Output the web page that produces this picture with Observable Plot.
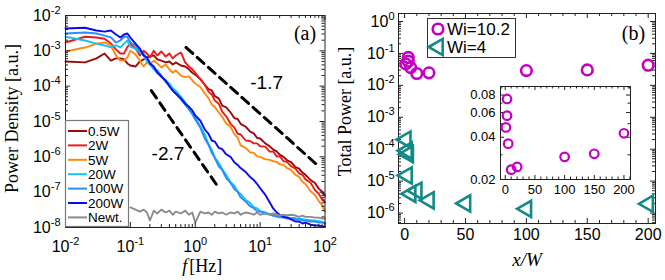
<!DOCTYPE html>
<html><head><meta charset="utf-8">
<script src="https://cdn.jsdelivr.net/npm/d3@7"></script>
<script src="https://cdn.jsdelivr.net/npm/@observablehq/plot@0.6"></script>
<style>
body{margin:0;background:#fff}
#wrap{position:relative;width:665px;height:280px;overflow:hidden;background:#fff}
#wrap svg{position:absolute}
</style></head>
<body><div id="wrap"></div>
<script>
// ---------- Panel (a) data ----------
const freq = [0.01,0.02,0.03,0.04,0.05,0.06,0.07,0.08,0.09,0.1,0.12,0.14,0.16,0.18,0.2,0.23,0.26,0.3,0.35,0.4,0.45,0.5,0.6,0.7,0.8,0.9,1,1.2,1.4,1.6,1.8,2,2.3,2.6,3,3.5,4,4.5,5,6,7,8,9,10,12,14,16,18,20,23,26,30,35,40,45,50,60,70,80,90,100];
const p05W = [5.0e-4,4.7e-4,6.1e-4,8.4e-4,5.3e-4,6.1e-4,6.1e-4,5.7e-4,4.4e-4,3.85e-4,
 3.6e-4,5.0e-4,5.7e-4,6.5e-4,6.9e-4,7.4e-4,5.7e-4,5.3e-4,4.7e-4,5.0e-4,
 4.1e-4,4.7e-4,3.85e-4,3.6e-4,3.0e-4,2.4e-4,2.1e-4,1.6e-4,1.1e-4,8.2e-5,
 7.6e-5,5.2e-5,4.5e-5,2.8e-5,2.5e-5,1.8e-5,1.25e-5,1.18e-5,8.6e-6,7.1e-6,
 5.2e-6,4.6e-6,3.4e-6,3.3e-6,2.4e-6,2.0e-6,1.6e-6,1.42e-6,1.15e-6,1.0e-6,
 8.0e-7,7.1e-7,5.1e-7,4.6e-7,3.6e-7,3.1e-7,2.2e-7,1.82e-7,1.26e-7,1.04e-7,
 8.0e-8];
const p2W = [1.72e-3,2.5e-3,2.38e-3,2.2e-3,1.6e-3,1.1e-3,8.4e-4,8.4e-4,1.3e-3,1.6e-3,
 1.16e-3,7.4e-4,1.0e-3,8.4e-4,6.5e-4,1.0e-3,7.4e-4,9.6e-4,6.9e-4,8.4e-4,
 6.1e-4,7.4e-4,9.0e-4,4.7e-4,3.6e-4,3.0e-4,2.4e-4,1.55e-4,1.1e-4,7.0e-5,
 5.8e-5,3.9e-5,3.2e-5,1.9e-5,1.4e-5,8.6e-6,6.8e-6,4.5e-6,4.3e-6,2.9e-6,
 2.8e-6,2.4e-6,2.4e-6,2.0e-6,1.95e-6,1.4e-6,1.42e-6,1.02e-6,1.05e-6,7.5e-7,
 7.2e-7,5.4e-7,4.6e-7,3.4e-7,3.1e-7,2.3e-7,1.85e-7,1.15e-7,9.0e-8,6.3e-8,
 5.2e-8];
const p5W = [9.6e-4,1.24e-3,1.6e-3,1.72e-3,1.42e-3,7.4e-4,5.3e-4,5.3e-4,6.5e-4,1.0e-3,
 7.9e-4,5.3e-4,3.6e-4,4.7e-4,4.1e-4,5.3e-4,4.4e-4,3.4e-4,4.1e-4,3.0e-4,
 2.4e-4,2.8e-4,2.0e-4,1.8e-4,1.9e-4,1.45e-4,1.19e-4,9.5e-5,6.2e-5,4.6e-5,
 3.0e-5,2.6e-5,1.8e-5,1.36e-5,8.8e-6,7.1e-6,4.4e-6,3.5e-6,2.1e-6,1.8e-6,
 1.33e-6,1.3e-6,1.03e-6,1.0e-6,8.6e-7,8.2e-7,7.5e-7,7.2e-7,6.2e-7,5.9e-7,
 4.8e-7,4.3e-7,3.1e-7,2.7e-7,1.95e-7,1.7e-7,1.06e-7,8.3e-8,5.6e-8,4.3e-8,
 2.8e-8];
const p20W = [2.5e-3,1.96e-3,1.6e-3,1.42e-3,1.25e-3,1.42e-3,1.25e-3,1.6e-3,1.96e-3,1.3e-3,
 1.16e-3,9.0e-4,7.4e-4,5.0e-4,4.1e-4,3.0e-4,2.4e-4,1.8e-4,1.45e-4,1.19e-4,
 8.6e-5,7.5e-5,5.1e-5,3.5e-5,2.5e-5,1.8e-5,1.3e-5,7.2e-6,4.3e-6,2.3e-6,
 1.6e-6,9.5e-7,6.8e-7,4.5e-7,3.1e-7,1.9e-7,1.55e-7,1.05e-7,8.9e-8,6.0e-8,
 5.0e-8,3.8e-8,3.5e-8,2.9e-8,2.7e-8,2.4e-8,2.35e-8,2.1e-8,2.05e-8,1.95e-8,
 1.95e-8,1.85e-8,1.85e-8,1.75e-8,1.75e-8,1.65e-8,1.6e-8,1.55e-8,1.5e-8,1.45e-8,
 1.38e-8];
const p100W = [3.1e-3,3.3e-3,3.1e-3,2.7e-3,2.4e-3,1.72e-3,1.96e-3,2.5e-3,2.5e-3,1.72e-3,
 1.42e-3,1.0e-3,8.4e-4,6.1e-4,4.7e-4,3.2e-4,2.8e-4,2.0e-4,1.3e-4,1.04e-4,
 7.5e-5,6.2e-5,4.2e-5,3.0e-5,2.2e-5,1.6e-5,1.14e-5,6.6e-6,3.3e-6,2.2e-6,
 1.28e-6,9.4e-7,5.4e-7,4.3e-7,2.5e-7,1.82e-7,1.22e-7,1.02e-7,7.2e-8,5.4e-8,
 4.0e-8,3.5e-8,2.9e-8,2.85e-8,2.45e-8,2.35e-8,2.15e-8,2.05e-8,1.95e-8,1.9e-8,
 1.8e-8,1.8e-8,1.7e-8,1.7e-8,1.58e-8,1.58e-8,1.48e-8,1.48e-8,1.38e-8,1.38e-8,
 1.3e-8];
const p200W = [4.3e-3,4.5e-3,3.76e-3,3.5e-3,3.76e-3,2.9e-3,2.38e-3,2.9e-3,3.09e-3,2.38e-3,
 1.6e-3,1.16e-3,7.4e-4,6.5e-4,4.4e-4,3.6e-4,2.4e-4,1.9e-4,1.45e-4,9.8e-5,
 7.5e-5,6.2e-5,4.5e-5,3.2e-5,2.6e-5,2.05e-5,1.48e-5,1.05e-5,6.0e-6,4.5e-6,
 2.9e-6,2.7e-6,1.8e-6,1.65e-6,1.18e-6,1.0e-6,7.0e-7,5.9e-7,4.8e-7,3.7e-7,
 2.7e-7,2.2e-7,1.7e-7,1.3e-7,8.4e-8,5.2e-8,3.4e-8,2.66e-8,2.3e-8,2.0e-8,
 1.92e-8,1.7e-8,1.48e-8,1.48e-8,1.3e-8,1.38e-8,1.2e-8,1.14e-8,1.14e-8,1.07e-8,
 1.07e-8];
const pNewt = [null,null,null,null,null,null,null,null,null,3.7e-8,
 3.2e-8,2.8e-8,3.2e-8,2.66e-8,1.58e-8,3.0e-8,2.5e-8,3.2e-8,2.66e-8,3.0e-8,
 2.3e-8,2.8e-8,2.5e-8,3.0e-8,2.3e-8,2.66e-8,1.38e-8,2.8e-8,2.5e-8,2.66e-8,
 2.3e-8,2.8e-8,2.5e-8,2.66e-8,2.3e-8,2.66e-8,2.5e-8,2.8e-8,2.3e-8,2.66e-8,
 2.5e-8,2.3e-8,2.66e-8,2.3e-8,2.5e-8,2.3e-8,2.5e-8,2.3e-8,2.18e-8,2.3e-8,
 2.18e-8,2.3e-8,2.18e-8,2.0e-8,2.18e-8,2.0e-8,2.0e-8,1.9e-8,1.9e-8,1.8e-8,
 1.8e-8];
const seriesNames = ["0.5W","2W","5W","20W","100W","200W","Newt."];
const seriesColors = ["#9b0a0a","#f01818","#ff8a10","#12c4f2","#2a8cff","#0a0aee","#8c8c8c"];
const seriesValues = [p05W,p2W,p5W,p20W,p100W,p200W,pNewt];
// guide lines (slopes)
const slopeNames = ["-1.7","-2.7"];
const slopeF = [[0.72,75],[0.21,2.28]];
const slopeP = [[1.25e-3,6.0e-7],[7.5e-5,1.36e-7]];
const slopeLabelF = [12.6,0.38];
const slopeLabelP = [1.2e-4,1.24e-6];

// ---------- Panel (b) data ----------
const xW_Wi102 = [3, 3, 1, 5, 10, 20, 100, 150, 200];
const power_Wi102 = [0.075, 0.057, 0.047, 0.036, 0.0235, 0.0246, 0.029, 0.0305, 0.0427];
const xW_Wi4 = [1, 2, 3, 2, 5, 10, 20, 50, 100, 200];
const power_Wi4 = [2.0e-4, 9.0e-5, 7.0e-5, 1.5e-5, 4.0e-6, 5.0e-6, 2.5e-6, 2.0e-6, 1.35e-6, 1.95e-6];
const legendB = ["Wi=10.2","Wi=4"];
const colorWi102 = "#c400c4", colorWi4 = "#138a85";

// ---------- helpers ----------
const frameColor = "#222";
function decadeTicks(k0,k1){const a=[];for(let k=k0;k<=k1;k++)a.push(Math.pow(10,k));return a;}
function minorLogTicks(k0,k1,lo,hi){const a=[];for(let k=k0;k<=k1;k++)for(let m=2;m<=9;m++){const v=m*Math.pow(10,k);if(v>=lo&&v<=hi)a.push(v);}return a;}
function expLabel(v){return "10^"+Math.round(Math.log10(v));}
function inwardTicks(xMaj,xMin,yMaj,yMin,W,H,ml,mr,mt,mb,maj=5,mn=3){
  const pw=W-ml-mr, ph=H-mt-mb, s={stroke:frameColor,strokeWidth:1};
  const m=[];
  const addX=(t,l)=>{m.push(Plot.ruleX(t,{x:d=>d,...s,insetTop:ph-l}));m.push(Plot.ruleX(t,{x:d=>d,...s,insetBottom:ph-l}));};
  const addY=(t,l)=>{m.push(Plot.ruleY(t,{y:d=>d,...s,insetRight:pw-l}));m.push(Plot.ruleY(t,{y:d=>d,...s,insetLeft:pw-l}));};
  addX(xMaj,maj);addX(xMin,mn);addY(yMaj,maj);addY(yMin,mn);
  return m;
}
function supify(svg,small,raise){
  d3.select(svg).selectAll("text").each(function(){
    const m=/^10\^(-?\d+)$/.exec(this.textContent);
    if(m){const el=d3.select(this);el.text("");el.append("tspan").text("10");
      el.append("tspan").attr("dy",-raise).attr("font-size",small).text(m[1]);}
  });
}
const serif = "Liberation Serif, Times New Roman, serif";
const wrap = document.getElementById("wrap");

// ---------- Panel (a) ----------
{
  const W=330,H=280,ml=65,mr=5.5,mt=15,mb=53;
  const xMaj=decadeTicks(-2,2), xMin=minorLogTicks(-2,1,0.01,100);
  const yMaj=decadeTicks(-8,-2), yMin=minorLogTicks(-8,-3,1e-8,1e-2);
  const lines = seriesValues.map((vals,i)=>Plot.line(
    freq.map((f,j)=>({f,p:vals[j]})).filter(d=>d.p!=null),
    {x:"f",y:"p",stroke:seriesColors[i],strokeWidth:1.9,strokeLinejoin:"round"}));
  const guides = slopeNames.map((n,i)=>Plot.line(
    slopeF[i].map((f,j)=>({f,p:slopeP[i][j]})),
    {x:"f",y:"p",stroke:"#000",strokeWidth:3,strokeDasharray:"9,6"}));
  const svg = Plot.plot({
    width:W,height:H,marginLeft:ml,marginRight:mr,marginTop:mt,marginBottom:mb,
    x:{type:"log",domain:[0.01,100]},
    y:{type:"log",domain:[1e-8,1e-2]},
    style:{fontFamily:"Liberation Sans, Arial, sans-serif",background:"transparent",overflow:"visible"},
    marks:[
      ...lines,
      ...guides,
      Plot.text(slopeNames,{x:(d,i)=>slopeLabelF[i],y:(d,i)=>slopeLabelP[i],text:d=>d,fontSize:19,fill:"#000"}),
      ...inwardTicks(xMaj,xMin,yMaj,yMin,W,H,ml,mr,mt,mb),
      Plot.frame({stroke:frameColor}),
      Plot.axisX(xMaj,{anchor:"bottom",tickSize:0,tickPadding:13,text:expLabel,fontSize:16,label:null}),
      Plot.axisY(yMaj,{anchor:"left",tickSize:0,tickPadding:5,text:expLabel,fontSize:16,label:null}),
      Plot.text(["(a)"],{frameAnchor:"top-right",textAnchor:"middle",lineAnchor:"middle",dx:-20,dy:18,fontFamily:serif,fontSize:20}),
      Plot.text(["Power Density [a.u.]"],{frameAnchor:"left",textAnchor:"middle",lineAnchor:"middle",rotate:-90,dx:-53,dy:-3,fontFamily:serif,fontSize:18}),
      Plot.text(["f"],{frameAnchor:"bottom",textAnchor:"end",lineAnchor:"middle",dx:-8,dy:39,fontFamily:serif,fontStyle:"italic",fontSize:18}),
      Plot.text(["[Hz]"],{frameAnchor:"bottom",textAnchor:"start",lineAnchor:"middle",dx:-6,dy:39,fontFamily:serif,fontSize:18})
    ]
  });
  supify(svg,11,7);
  svg.style.left="0px";svg.style.top="0px";
  wrap.appendChild(svg);
}

// ---------- Panel (b) ----------
{
  const W=335,H=280,ml=68,mr=10,mt=13,mb=57;
  const xMaj=[0,50,100,150,200], xMin=d3.range(10,206,10).filter(v=>v%50!==0);
  const yMaj=decadeTicks(-6,0), yMin=minorLogTicks(-7,0,4.7e-7,1.78);
  const svg = Plot.plot({
    width:W,height:H,marginLeft:ml,marginRight:mr,marginTop:mt,marginBottom:mb,
    x:{domain:[-5,206]},
    y:{type:"log",domain:[4.7e-7,1.78]},
    style:{fontFamily:"Liberation Sans, Arial, sans-serif",background:"transparent",overflow:"visible"},
    marks:[
      ...inwardTicks(xMaj,xMin,yMaj,yMin,W,H,ml,mr,mt,mb),
      Plot.frame({stroke:frameColor}),
      Plot.dot(xW_Wi4.map((x,i)=>({x,p:power_Wi4[i]})),{x:"x",y:"p",symbol:"triangle",r:6,rotate:-90,stroke:colorWi4,strokeWidth:2.6,fill:"none"}),
      Plot.dot(xW_Wi102.map((x,i)=>({x,p:power_Wi102[i]})),{x:"x",y:"p",r:5.3,stroke:colorWi102,strokeWidth:2.6,fill:"none"}),
      Plot.axisX(xMaj,{anchor:"bottom",tickSize:0,tickPadding:5,fontSize:16,label:null}),
      Plot.axisY(yMaj,{anchor:"left",tickSize:0,tickPadding:4,text:expLabel,fontSize:16,label:null}),
      Plot.text(["(b)"],{frameAnchor:"top-right",textAnchor:"middle",lineAnchor:"middle",dx:-22,dy:20,fontFamily:serif,fontSize:20}),
      Plot.text(["Total Power [a.u.]"],{frameAnchor:"left",textAnchor:"middle",lineAnchor:"middle",rotate:-90,dx:-53,dy:-7,fontFamily:serif,fontSize:18}),
      Plot.text(["x/W"],{frameAnchor:"bottom",textAnchor:"middle",lineAnchor:"middle",dy:36,fontFamily:serif,fontStyle:"italic",fontSize:19})
    ]
  });
  supify(svg,11,7);
  svg.style.left="330px";svg.style.top="0px";
  wrap.appendChild(svg);
}

// ---------- Inset ----------
{
  const W=185,H=125,ml=45,mr=10,mt=6,mb=26;
  const xMaj=[0,50,100,150,200], xMin=d3.range(10,211,10).filter(v=>v%50!==0);
  const yMaj=[0.02,0.04,0.06,0.08], yMin=[0.03,0.05,0.07,0.09];
  const svg = Plot.plot({
    width:W,height:H,marginLeft:ml,marginRight:mr,marginTop:mt,marginBottom:mb,
    x:{domain:[-8,211]},
    y:{type:"log",domain:[0.02,0.092]},
    style:{fontFamily:"Liberation Sans, Arial, sans-serif",background:"transparent",overflow:"visible"},
    marks:[
      Plot.frame({fill:"#fff",stroke:"none"}),
      ...inwardTicks(xMaj,xMin,yMaj,yMin,W,H,ml,mr,mt,mb,4,2.5),
      Plot.frame({stroke:frameColor}),
      Plot.dot(xW_Wi102.map((x,i)=>({x,p:power_Wi102[i]})),{x:"x",y:"p",r:4.3,stroke:colorWi102,strokeWidth:2.2,fill:"none"}),
      Plot.axisX(xMaj,{anchor:"bottom",tickSize:0,tickPadding:5,fontSize:13,label:null}),
      Plot.axisY(yMaj,{anchor:"left",tickSize:0,tickPadding:5,text:d=>d.toFixed(2),fontSize:13,label:null})
    ]
  });
  svg.style.left="455px";svg.style.top="80px";
  wrap.appendChild(svg);
}

// ---------- Legends (overlay) ----------
{
  const ov = d3.select(wrap).append("svg").attr("width",665).attr("height",280)
    .style("left","0px").style("top","0px").style("font-family","Liberation Sans, Arial, sans-serif");
  const a = ov.append("g");
  a.append("rect").attr("x",65.5).attr("y",120.5).attr("width",63).attr("height",106)
    .attr("fill","#fff").attr("stroke","#777").attr("stroke-width",1.2);
  seriesNames.forEach((n,i)=>{
    const y=131+i*14.4;
    a.append("line").attr("x1",68).attr("x2",87).attr("y1",y).attr("y2",y)
      .attr("stroke",seriesColors[i]).attr("stroke-width",2);
    a.append("text").attr("x",88).attr("y",y).attr("dy","0.36em").attr("font-size",13.5).text(n);
  });
  const b = ov.append("g");
  b.append("rect").attr("x",427.5).attr("y",18.5).attr("width",88).attr("height",39)
    .attr("fill","#fff").attr("stroke","#333").attr("stroke-width",1);
  b.append("circle").attr("cx",438).attr("cy",29).attr("r",5.3).attr("fill","none")
    .attr("stroke",colorWi102).attr("stroke-width",2.6);
  b.append("path").attr("d",d3.symbol(d3.symbolTriangle,Math.PI*36)()).attr("transform","translate(438,47) rotate(-90)")
    .attr("fill","none").attr("stroke",colorWi4).attr("stroke-width",2.6);
  legendB.forEach((t,i)=>b.append("text").attr("x",447).attr("y",29+i*18).attr("dy","0.36em").attr("font-size",17).text(t));
}
</script></body></html>
